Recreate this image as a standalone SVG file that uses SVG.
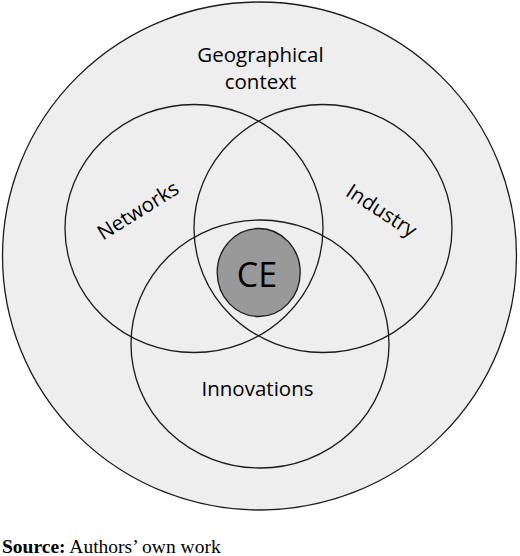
<svg xmlns="http://www.w3.org/2000/svg" width="520" height="556" viewBox="0 0 520 556">
<style>
.ring{fill:none;stroke:#1a1a1a;stroke-width:1.3}
.lbl{font-family:"Open Sans","Noto Sans",sans-serif;font-size:20.5px;fill:#000;text-anchor:middle}
</style>
<rect width="520" height="556" fill="#ffffff"/>
<g id="geographical-context">
<ellipse cx="259.5" cy="256" rx="257" ry="254" fill="#eeeeee" stroke="#1a1a1a" stroke-width="1.3"/>
<text class="lbl" x="260.5" y="61.7">Geographical</text>
<text class="lbl" x="260.5" y="89.3">context</text>
</g>
<g id="networks">
<ellipse class="ring" cx="194" cy="228.5" rx="129" ry="124"/>
<text class="lbl" transform="translate(138.5,211.5) rotate(-32)" x="0" y="6">Networks</text>
</g>
<g id="industry">
<ellipse class="ring" cx="323" cy="228.5" rx="129" ry="124"/>
<text class="lbl" transform="translate(381,211.5) rotate(33)" x="0" y="6">Industry</text>
</g>
<g id="innovations">
<ellipse class="ring" cx="260" cy="344" rx="129" ry="124"/>
<text class="lbl" x="257.5" y="396">Innovations</text>
</g>
<g id="ce">
<ellipse cx="258.7" cy="272.5" rx="41.5" ry="44" fill="#999999" stroke="#1a1a1a" stroke-width="1.3"/>
<text x="257" y="287.3" font-family="'Open Sans','Noto Sans',sans-serif" font-size="34" fill="#000" text-anchor="middle">CE</text>
</g>
<g id="connectors"/>
<text x="2" y="553" font-family="'Liberation Serif','Times New Roman',serif" font-size="19.5" fill="#000"><tspan font-weight="bold">Source:</tspan> Authors’ own work</text>
</svg>
